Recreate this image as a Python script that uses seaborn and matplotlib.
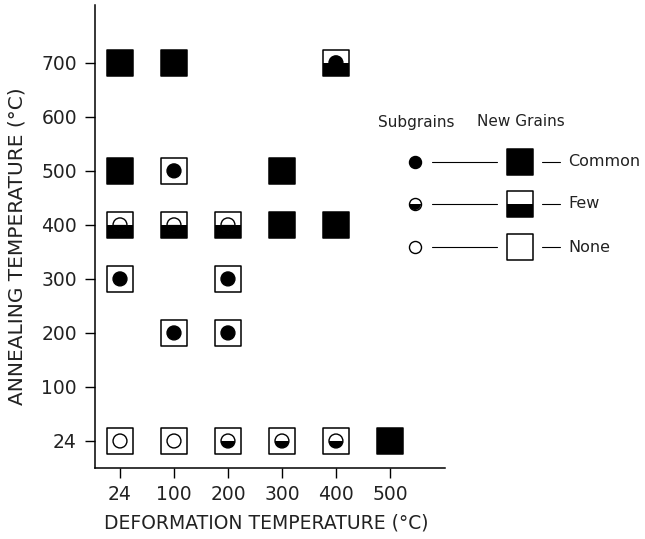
import matplotlib
matplotlib.use("Agg")
import matplotlib.pyplot as plt
from matplotlib.markers import MarkerStyle
import seaborn as sns
import pandas as pd

# ---- data ----
x_cats = ["24", "100", "200", "300", "400", "500"]
y_cats = ["24", "100", "200", "300", "400", "500", "600", "700"]

deform = ["24", "100", "400",
          "24", "100", "300",
          "24", "100", "200", "300", "400",
          "24", "200",
          "100", "200",
          "24", "100", "200", "300", "400", "500"]
anneal = ["700", "700", "700",
          "500", "500", "500",
          "400", "400", "400", "400", "400",
          "300", "300",
          "200", "200",
          "24", "24", "24", "24", "24", "24"]
new_grains = ["Common", "Common", "Few",
              "Common", "None", "Common",
              "Few", "Few", "Few", "Common", "Common",
              "None", "None",
              "None", "None",
              "None", "None", "None", "None", "None", "Common"]
subgrains = ["Common", "Common", "Common",
             "Common", "Common", "Common",
             "Few", "Few", "Few", "Common", "Common",
             "Common", "Common",
             "Common", "Common",
             "None", "None", "Few", "Few", "Few", "Common"]
levels = ["Common", "Few", "None"]

df = pd.DataFrame({"deform": deform, "anneal": anneal,
                   "new": new_grains, "sub": subgrains})
df["xp"] = df["deform"].map(x_cats.index)
df["yp"] = df["anneal"].map(y_cats.index)

sns.set_theme(style="ticks")
plt.rcParams['font.family'] = ['DejaVu Sans']

W, H = 645, 539
fig = plt.figure(figsize=(W / 100, H / 100), dpi=100)
ax = fig.add_axes([95 / W, 1 - 468 / H, (445 - 95) / W, (468 - 5) / H])

face = {"Common": "black", "Few": "white", "None": "white"}
SQ, CI = 350, 100
sq_half = MarkerStyle('s', fillstyle='bottom')
ci_half = MarkerStyle('o', fillstyle='bottom')

# new grains squares
sns.scatterplot(data=df, x="xp", y="yp", hue="new", palette=face, marker="s",
                s=SQ, edgecolor="black", linewidth=1.1, legend=False, ax=ax)
sns.scatterplot(data=df[df["new"] == "Few"], x="xp", y="yp", marker=sq_half,
                s=SQ, color="black", edgecolor="none", linewidth=0, legend=False, ax=ax)
# subgrain circles
sns.scatterplot(data=df, x="xp", y="yp", hue="sub", palette=face, marker="o",
                s=CI, edgecolor="black", linewidth=1.0, legend=False, ax=ax)
sns.scatterplot(data=df[df["sub"] == "Few"], x="xp", y="yp", marker=ci_half,
                s=CI, color="black", edgecolor="none", linewidth=0, legend=False, ax=ax)

ax.set_xlim(-0.463, 6.02)
ax.set_ylim(-0.5, 8.07)
ax.set_xticks(range(len(x_cats)))
ax.set_xticklabels(x_cats)
ax.set_yticks(range(len(y_cats)))
ax.set_yticklabels(y_cats)
ax.set_xlabel("")
ax.set_ylabel("")
sns.despine(ax=ax)
for sp in ["left", "bottom"]:
    ax.spines[sp].set_linewidth(1.1)
    ax.spines[sp].set_color("black")
ax.tick_params(axis="both", length=7, width=1.0, color="black",
               labelsize=13.5, labelcolor="#222222")
ax.tick_params(axis="x", pad=5)
ax.tick_params(axis="y", pad=6)

fig.text(266 / W, 1 - 523 / H, "DEFORMATION TEMPERATURE (°C)", ha="center",
         va="center", fontsize=13.5, color="#222222")
fig.text(17 / W, 1 - 246 / H, "ANNEALING TEMPERATURE (°C)", ha="center",
         va="center", rotation=90, fontsize=14.5, color="#222222")

# ---- legend key ----
lax = fig.add_axes([0, 0, 1, 1])
lax.set_xlim(0, W)
lax.set_ylim(H, 0)
lax.axis("off")
lax.patch.set_visible(False)
lax.text(416, 122, "Subgrains", ha="center", va="center", fontsize=11, color="#222222")
lax.text(521, 122, "New Grains", ha="center", va="center", fontsize=11, color="#222222")
rows = [162, 204, 247]
for lev, yy in zip(levels, rows):
    lax.plot([432, 497], [yy, yy], color="black", lw=0.8)
    lax.plot([542, 560], [yy, yy], color="black", lw=0.8)
    lax.scatter([520], [yy], marker="s", s=SQ, c=face[lev], edgecolors="black", linewidths=1.1)
    if lev == "Few":
        lax.scatter([520], [yy], marker=sq_half, s=SQ, c="black", edgecolors="none", linewidths=0)
    lax.scatter([415], [yy], marker="o", s=75, c=face[lev], edgecolors="black", linewidths=1.0)
    if lev == "Few":
        lax.scatter([415], [yy], marker=ci_half, s=75,
                    c="black", edgecolors="none", linewidths=0)
    lax.text(568, yy, lev, ha="left", va="center", fontsize=11.5, color="#222222")

fig.savefig("out.png", dpi=100)
